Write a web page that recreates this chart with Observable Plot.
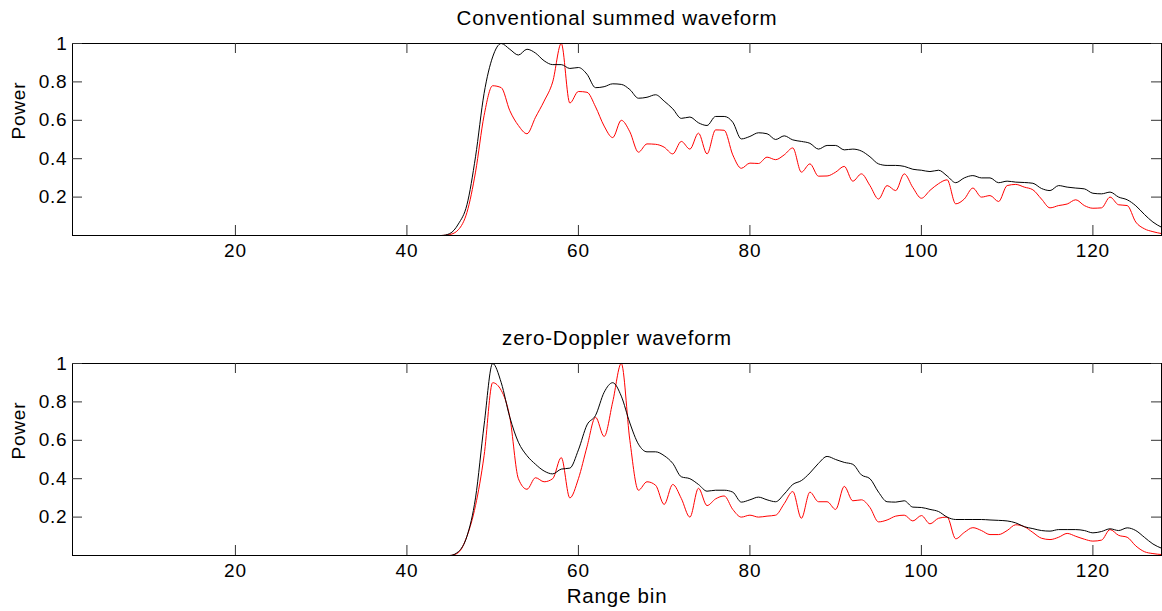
<!DOCTYPE html>
<html><head><meta charset="utf-8">
<script src="https://cdn.jsdelivr.net/npm/d3@7"></script>
<script src="https://cdn.jsdelivr.net/npm/@observablehq/plot@0.6"></script>
<style>
body{margin:0;background:#fff;}
#chart{width:1162px;height:611px;overflow:hidden;}
#chart svg{display:block;}
</style>
</head><body><div id="chart"></div>
<script>
// Range bins 1..128
const bins = d3.range(1, 129);
const xTicks = [20, 40, 60, 80, 100, 120];
const yTicks = [0.2, 0.4, 0.6, 0.8, 1];
const titles = ["Conventional summed waveform", "zero-Doppler waveform"];
const yLabel = "Power";
const xLabel = "Range bin";

// Top panel: conventional summed waveform
const convBlack = [
  0,0,0,0,0,0,0,0,0,0, 0,0,0,0,0,0,0,0,0,0, 0,0,0,0,0,0,0,0,0,0, 0,0,0,0,0,0,0,0,0,0, 0,0,0,0,
  0.01,0.06,0.16,0.41,0.74,0.93,1.0,0.97,0.94,0.97,
  0.95,0.91,0.89,0.89,0.87,0.875,0.84,0.77,0.775,0.79,
  0.787,0.76,0.715,0.72,0.733,0.70,0.66,0.61,0.617,0.587,
  0.573,0.62,0.62,0.59,0.503,0.516,0.535,0.53,0.50,0.519,
  0.498,0.49,0.48,0.45,0.469,0.469,0.446,0.45,0.44,0.41,
  0.373,0.365,0.365,0.36,0.345,0.34,0.333,0.34,0.31,0.275,
  0.30,0.312,0.30,0.30,0.275,0.283,0.278,0.276,0.272,0.245,
  0.234,0.26,0.252,0.247,0.243,0.22,0.217,0.226,0.2,0.186,
  0.155,0.11,0.07,0.043
];
const convRed = [
  0,0,0,0,0,0,0,0,0,0, 0,0,0,0,0,0,0,0,0,0, 0,0,0,0,0,0,0,0,0,0, 0,0,0,0,0,0,0,0,0,0, 0,0,0,0,
  0.005,0.03,0.12,0.33,0.625,0.78,0.77,0.65,0.573,0.53,
  0.616,0.70,0.80,1.0,0.69,0.75,0.746,0.67,0.57,0.51,
  0.60,0.54,0.434,0.477,0.475,0.46,0.425,0.49,0.45,0.533,
  0.425,0.55,0.548,0.42,0.35,0.377,0.375,0.408,0.395,0.42,
  0.456,0.33,0.373,0.309,0.31,0.33,0.36,0.283,0.321,0.26,
  0.19,0.26,0.234,0.321,0.25,0.194,0.235,0.27,0.29,0.165,
  0.19,0.247,0.2,0.208,0.177,0.26,0.266,0.252,0.238,0.19,
  0.144,0.156,0.164,0.186,0.156,0.142,0.144,0.2,0.16,0.156,
  0.07,0.035,0.02,0.01
];

// Bottom panel: zero-Doppler waveform
const zdBlack = [
  0,0,0,0,0,0,0,0,0,0, 0,0,0,0,0,0,0,0,0,0, 0,0,0,0,0,0,0,0,0,0, 0,0,0,0,0,0,0,0,0,0, 0,0,0,0,
  0.0,0.02,0.1,0.3,0.68,1.0,0.9,0.72,0.59,0.52,
  0.475,0.44,0.425,0.45,0.455,0.55,0.68,0.73,0.85,0.9,
  0.83,0.69,0.58,0.54,0.54,0.52,0.48,0.41,0.40,0.37,
  0.335,0.34,0.34,0.33,0.278,0.29,0.304,0.29,0.28,0.32,
  0.37,0.39,0.43,0.48,0.516,0.5,0.485,0.475,0.42,0.40,
  0.33,0.28,0.278,0.285,0.252,0.25,0.24,0.229,0.2,0.1875,
  0.1875,0.1875,0.1875,0.185,0.183,0.18,0.17,0.15,0.14,0.13,
  0.127,0.135,0.135,0.135,0.13,0.118,0.125,0.139,0.13,0.144,
  0.13,0.095,0.06,0.038
];
const zdRed = [
  0,0,0,0,0,0,0,0,0,0, 0,0,0,0,0,0,0,0,0,0, 0,0,0,0,0,0,0,0,0,0, 0,0,0,0,0,0,0,0,0,0, 0,0,0,0,
  0.0,0.015,0.1,0.26,0.52,0.9,0.86,0.72,0.40,0.345,
  0.405,0.384,0.40,0.51,0.30,0.40,0.566,0.72,0.62,0.8,
  1.0,0.6,0.34,0.384,0.366,0.266,0.37,0.297,0.2,0.35,
  0.26,0.295,0.31,0.24,0.2,0.21,0.2,0.205,0.21,0.27,
  0.333,0.194,0.33,0.28,0.28,0.24,0.36,0.285,0.29,0.25,
  0.175,0.185,0.205,0.21,0.18,0.208,0.165,0.194,0.2,0.087,
  0.12,0.145,0.13,0.109,0.109,0.13,0.16,0.15,0.12,0.09,
  0.083,0.095,0.115,0.1,0.085,0.075,0.08,0.135,0.105,0.095,
  0.05,0.02,0.01,0.005
];

const FONT = "'Liberation Sans', Arial, Helvetica, sans-serif";
const W = 1162, ML = 72, MR = 1;

function panel({title, black, red, height, mt, mb, xTitle}) {
  const rows = arr => bins.map((b, i) => ({bin: b, power: arr[i]}));
  const plotH = height - mt - mb;
  const plotW = W - ML - MR;
  const tick = "#333";
  const marks = [
    Plot.line(rows(red), {x: "bin", y: "power", stroke: "#ff0000", strokeWidth: 1, curve: "monotone-x"}),
    Plot.line(rows(black), {x: "bin", y: "power", stroke: "#000", strokeWidth: 1, curve: "monotone-x"}),
    Plot.frame({stroke: "#000", strokeWidth: 1}),
    Plot.tickX(xTicks, {x: d => d, insetTop: plotH - 10, stroke: tick}),
    Plot.tickX(xTicks, {x: d => d, insetBottom: plotH - 10, stroke: tick}),
    Plot.tickY(yTicks, {y: d => d, insetRight: plotW - 10, stroke: tick}),
    Plot.tickY(yTicks, {y: d => d, insetLeft: plotW - 10, stroke: tick}),
    Plot.axisX({ticks: xTicks, tickSize: 0, tickPadding: 8, tickFormat: d => String(d), label: null}),
    Plot.axisY({ticks: yTicks, tickSize: 0, tickPadding: 5, tickFormat: d => String(d), label: null}),
    Plot.text([title], {text: d => d, frameAnchor: "top", lineAnchor: "middle", dy: -25, fontSize: 20.5}),
    Plot.text([yLabel], {text: d => d, frameAnchor: "left", rotate: -90, dx: -54, fontSize: 19})
  ];
  if (xTitle) marks.push(Plot.text([xTitle], {text: d => d, frameAnchor: "bottom", lineAnchor: "middle", dy: 41, fontSize: 20.5}));
  return Plot.plot({
    width: W, height,
    marginLeft: ML, marginRight: MR, marginTop: mt, marginBottom: mb,
    x: {domain: [1, 128]},
    y: {domain: [0, 1]},
    style: {fontFamily: FONT, fontSize: "19px", color: "#000", background: "#fff", letterSpacing: "0.8px"},
    marks
  });
}

const chart = document.getElementById("chart");
chart.append(panel({title: titles[0], black: convBlack, red: convRed, height: 300, mt: 43, mb: 65}));
chart.append(panel({title: titles[1], black: zdBlack, red: zdRed, height: 311, mt: 63, mb: 56, xTitle: xLabel}));
</script>
</body></html>
